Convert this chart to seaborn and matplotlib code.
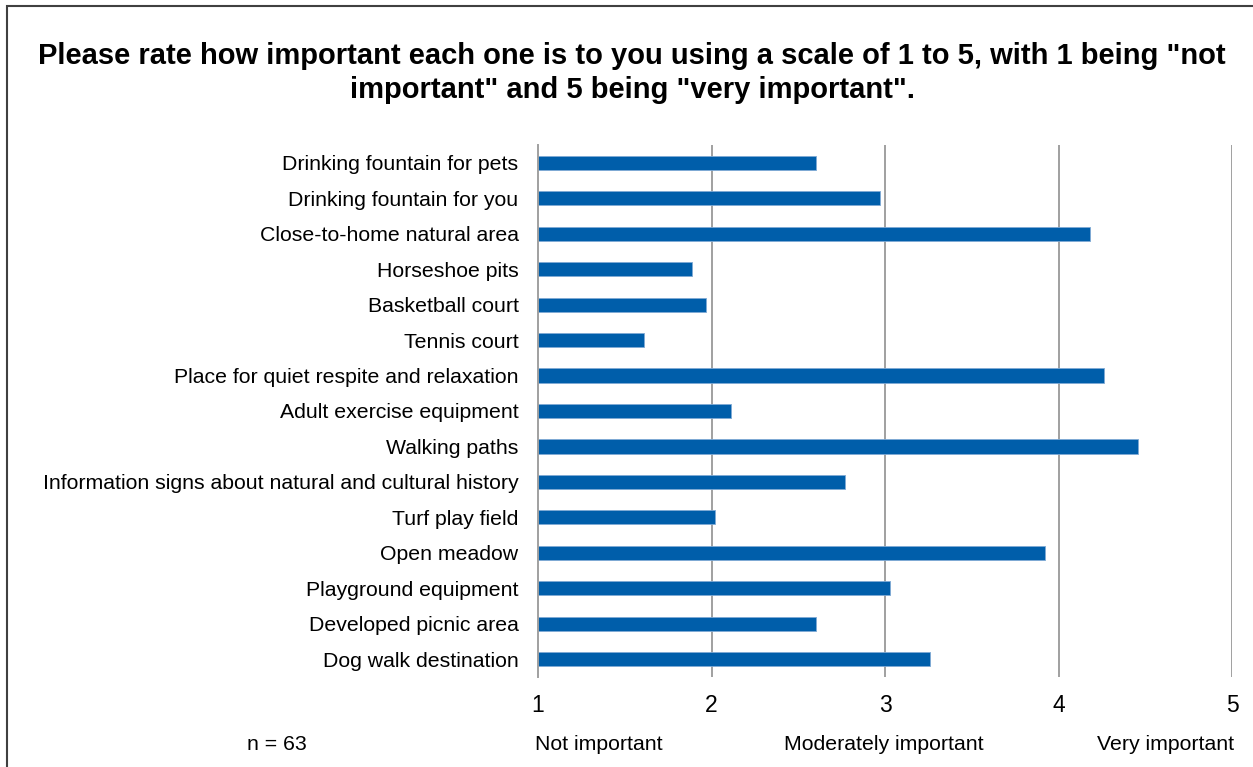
import matplotlib
matplotlib.use("Agg")
import matplotlib.pyplot as plt
import seaborn as sns
import pandas as pd
from matplotlib.patches import Rectangle

categories = [
    "Drinking fountain for pets",
    "Drinking fountain for you",
    "Close-to-home natural area",
    "Horseshoe pits",
    "Basketball court",
    "Tennis court",
    "Place for quiet respite and relaxation",
    "Adult exercise equipment",
    "Walking paths",
    "Information signs about natural and cultural history",
    "Turf play field",
    "Open meadow",
    "Playground equipment",
    "Developed picnic area",
    "Dog walk destination",
]
ratings = [2.60, 2.97, 4.18, 1.89, 1.97, 1.61, 4.26, 2.11, 4.46, 2.77, 2.02, 3.92, 3.03, 2.60, 3.26]
x_ticks = [1, 2, 3, 4, 5]
scale_labels = ["Not important", "Moderately important", "Very important"]
title = 'Please rate how important each one is to you using a scale of 1 to 5, with 1 being "not\nimportant" and 5 being "very important".'
note = "n = 63"

df = pd.DataFrame({"item": categories, "rating": ratings})

sns.set_theme(style="white")
plt.rcParams["font.family"] = ["Liberation Sans", "DejaVu Sans"]
plt.rcParams["text.color"] = "black"
plt.rcParams["xtick.color"] = "black"
plt.rcParams["ytick.color"] = "black"

FS = 15.3
W, H = 1253, 767
fig = plt.figure(figsize=(W / 100, H / 100), dpi=100)
fig.patch.set_facecolor("white")
ax = fig.add_axes([538 / W, 1 - 677 / H, (1232 - 538) / W, (677 - 145) / H])

sns.barplot(data=df, x="rating", y="item", orient="h", color="#005EAA",
            width=0.4, ax=ax, saturation=1, edgecolor="#7FAAD4", linewidth=0.6)

ax.set_xlim(1, 5)
ax.set_xticks(x_ticks)
ax.set_xticklabels([str(t) for t in x_ticks], fontsize=16.5)
ax.set_xlabel("")
ax.set_ylabel("")
ax.set_ylim(len(categories) - 0.5, -0.5)
for t in x_ticks[1:]:
    ax.axvline(t, color="#A0A0A0", lw=1.4, zorder=0)

for s in ["top", "right", "bottom"]:
    ax.spines[s].set_visible(False)
ax.spines["left"].set_color("#A0A0A0")
ax.spines["left"].set_linewidth(1.4)

ax.tick_params(axis="x", length=0, pad=12, labelcolor="black")
ax.tick_params(axis="y", which="major", length=0, pad=14, labelsize=FS, labelcolor="black")
ax.set_yticks([i - 0.5 for i in range(len(categories) + 1)], minor=True)
ax.tick_params(axis="y", which="minor", length=6, width=1.2, color="#A0A0A0", direction="out")

fig.text(632 / W, 1 - 73 / H, title, ha="center", va="center", fontsize=21,
         fontweight="bold", linespacing=1.25, color="black")

ytxt = 1 - 745 / H
fig.text(277 / W, ytxt, note, ha="center", va="center", fontsize=FS)
fig.text(535 / W, ytxt, scale_labels[0], ha="left", va="center", fontsize=FS)
fig.text(884 / W, ytxt, scale_labels[1], ha="center", va="center", fontsize=FS)
fig.text(1234 / W, ytxt, scale_labels[2], ha="right", va="center", fontsize=FS)

fig.patches.append(Rectangle((7 / W, -0.1), 1.2, 1.1 - 6 / H, transform=fig.transFigure,
                             fill=False, edgecolor="#404040", lw=1.5, zorder=10))

fig.savefig("out.png", dpi=100)
